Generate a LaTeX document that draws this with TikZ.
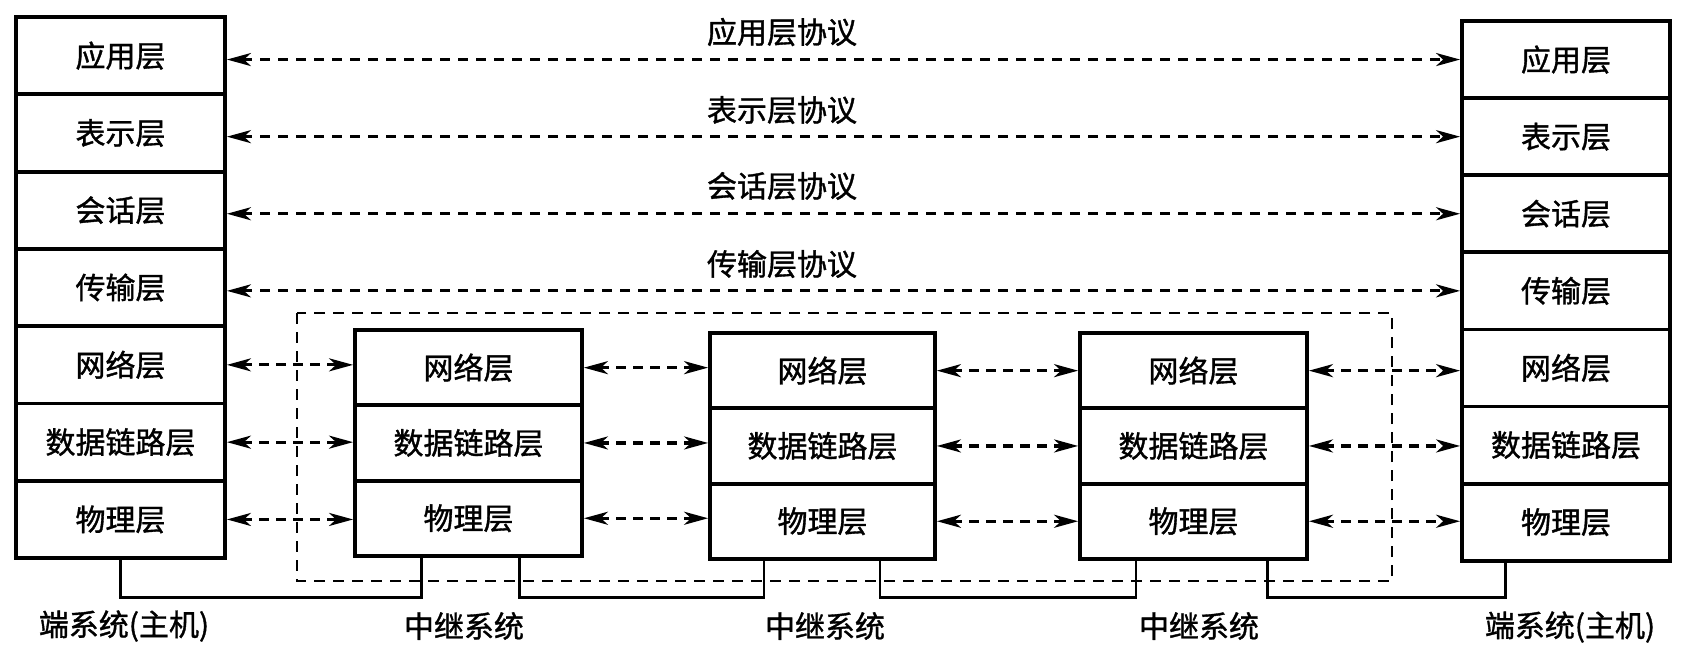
\documentclass[tikz,border=0pt]{standalone}
\usepackage{fontspec}
\newfontfamily\cjk[FakeBold=1.2]{Noto Sans CJK SC}
\usetikzlibrary{arrows.meta,calc}
\begin{document}
\begin{tikzpicture}[x=1pt,y=-1pt,
  lay/.style={draw, line width=3.8pt, font=\cjk\fontsize{30}{36}\selectfont, inner sep=0pt, anchor=center},
  lab/.style={font=\cjk\fontsize{30}{36}\selectfont, inner sep=0pt, anchor=center},
  tipL/.style={Stealth[length=24pt,width=13pt,inset=7pt]},
  proto/.style={line width=3.2pt, dash pattern=on 10pt off 8pt, {Stealth[length=24pt,width=13pt,inset=7pt]}-{Stealth[length=24pt,width=13pt,inset=7pt]}},
  peer/.style={line width=3.2pt, dash pattern=on 10pt off 7pt, {Stealth[length=24pt,width=13pt,inset=7pt]}-{Stealth[length=24pt,width=13pt,inset=7pt]}},
  wire/.style={line width=2.8pt},
  frame/.style={line width=2.8pt, dash pattern=on 11pt off 8pt}]

\useasboundingbox (0,0) rectangle (1682,654);

% dashed region around the relay systems
\draw[frame] (297,313) rectangle (1392,581);

% end system stacks
\foreach \t [count=\i] in {应用层,表示层,会话层,传输层,网络层,数据链路层,物理层} {
  \node[lay, minimum width=209pt, minimum height=77.3pt] (L\i) at (120.5, {17+77.3*(\i-0.5)}) {\t};
  \node[lay, minimum width=208pt, minimum height=77.1pt] (R\i) at (1566, {21+77.1*(\i-0.5)}) {\t};
}

% relay systems
\foreach \n/\cx/\top/\w in {A/468.5/330/227, B/822.5/333/225, C/1193.5/333/227} {
  \foreach \t [count=\i] in {网络层,数据链路层,物理层} {
    \node[lay, minimum width=\w pt, minimum height=75.3pt] (\n\i) at (\cx, {\top+75.3*(\i-0.5)}) {\t};
  }
}

% protocol labels
\node[lab] (P1) at (782,32) {应用层协议};
\node[lab] (P2) at (782,110) {表示层协议};
\node[lab] (P3) at (782,186) {会话层协议};
\node[lab] (P4) at (782,264) {传输层协议};

% end-to-end protocol arrows
\foreach \i in {1,...,4} {
  \draw[proto] (L\i.east |- R\i.west) -- (R\i.west);
}

% hop-by-hop arrows
\foreach \l/\a in {5/1,6/2,7/3} {
  \draw[peer] (L\l.east) -- (L\l.east -| A\a.west);
  \draw[peer] (A\a.east) -- (A\a.east -| B\a.west);
  \draw[peer] (B\a.east) -- (B\a.east -| C\a.west);
  \draw[peer] (C\a.east) -- (C\a.east -| R\l.west);
}

% physical links
\coordinate (bus) at (0,597.5);
\coordinate (a1) at ($(A3.south west)!0.295!(A3.south east)$);
\coordinate (a2) at ($(A3.south west)!0.722!(A3.south east)$);
\coordinate (b1) at ($(B3.south west)!0.244!(B3.south east)$);
\coordinate (b2) at ($(B3.south west)!0.751!(B3.south east)$);
\coordinate (c1) at ($(C3.south west)!0.251!(C3.south east)$);
\coordinate (c2) at ($(C3.south west)!0.819!(C3.south east)$);
\coordinate (r1) at ($(R7.south west)!0.216!(R7.south east)$);
\draw[wire] (L7.south) -- (L7.south |- bus) -| (a1);
\draw[wire] (a2) -- (a2 |- bus) -| (b1);
\draw[wire] (b2) -- (b2 |- bus) -| (c1);
\draw[wire] (c2) -- (c2 |- bus) -| (r1);

% bottom labels
\node[lab] (E1) at (124,626) {端系统(主机)};
\node[lab] (S1) at (464,626) {中继系统};
\node[lab] (S2) at (825,626) {中继系统};
\node[lab] (S3) at (1199,626) {中继系统};
\node[lab] (E2) at (1570,627) {端系统(主机)};
\end{tikzpicture}
\end{document}
